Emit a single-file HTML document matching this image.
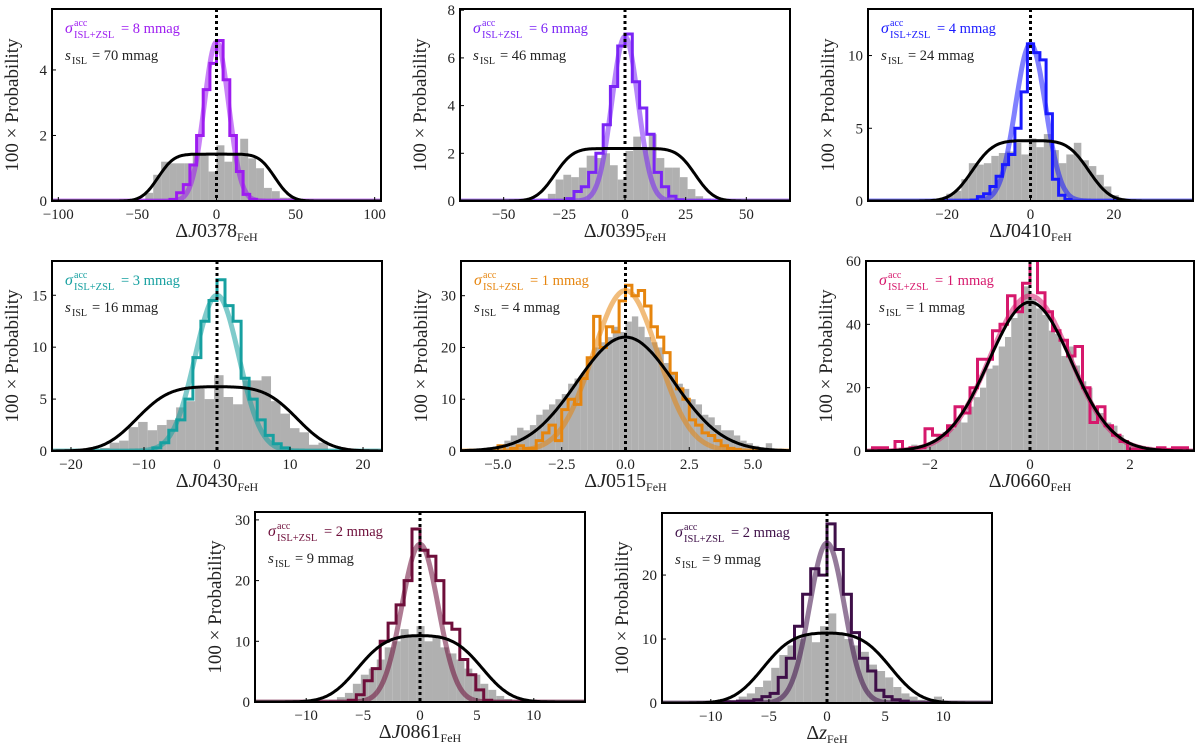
<!DOCTYPE html>
<html><head><meta charset="utf-8"><style>
html,body{margin:0;padding:0;background:#fff;}
svg{display:block;font-family:"Liberation Serif","DejaVu Serif",serif;}
</style></head><body>
<svg id="fig" width="1200" height="749" viewBox="0 0 1200 749"></svg>
<script>
// ---------- DATA ----------
const p1Grey = [0.25,0.8,1.2,1.15,1.15,1.15,1.4,1.4,0.9,1.7,1.2,1.4,1.9,1.3,1.0,0.4,0.3,0.1,0.1];
const p1Col = [0.05,0.25,0.5,1.1,2.0,3.4,4.2,4.9,3.7,2.0,0.9,0.2,0.05];
const p2Grey = [0.1,0.3,0.9,1.1,1.0,1.4,1.9,1.8,2.0,1.5,0.9,2.1,2.7,2.2,2.8,1.8,1.4,1.4,1.0,0.5,0.2,0.1];
const p2Col = [0.1,0.4,0.6,1.2,2.0,3.2,4.8,6.5,7.0,5.0,3.9,2.8,1.2,0.6,0.2,0.05];
const p3Grey = [0.2,0.5,0.7,1.5,2.6,2.5,2.6,3.1,3.3,3.4,4.0,3.2,4.3,3.7,4.6,3.5,2.6,3.2,4.0,2.8,2.4,1.8,1.0,0.4,0.2];
const p3Col = [0.05,0.3,0.5,1.0,1.7,2.5,3.2,5.0,7.5,10.8,10.2,9.7,6.0,1.5,0.4,0.1];
const p4Grey = [0.3,0.8,1.0,2.3,2.8,2.0,2.5,3.0,4.2,4.8,6.0,5.0,7.3,5.2,4.5,6.8,6.8,7.2,4.8,3.6,2.2,1.8,0.6,0.8];
const p4Col = [0.3,0.8,2.0,3.0,5.0,9.0,12.5,14.5,16.5,14,12.5,7,5,3,1.5,0.7,0.3];
const p5Grey = [1,2,3,4.5,4,5,7,8,9,10,11,13,14,15,18,20,21,22,24,23,25,26,24,22,21,20,17,15,13,12,10,9,7,6.5,5,4,4,3,2,1.5,1,0.5,1.5,0.2];
const p5Col = [1,0,0.5,1,0.5,0.5,2,3.5,5,2,8,10,9,14,18,26,20,24,23,29,32,30,31,28,24,22,19,15,12,10,6,5,3.5,3,2,1,0.5,0.3];
const p6Grey = [0,0.3,0,1,0.5,2,1.5,2.5,3,5,6,7,10,9,14,17,20,26,27,33,36,42,45,52,48,45,43,38,37,30,33,27,22,20,14,12,9,8,5,3,2,1.5,0.8,0.5,0.3,0,0.3,0];
const p6Col = [1,1,0,3,0,1,1,7,5,5,8,14,12,20,29,29,38,40,49,44,53,62,50,44,38,35,30,33,20,9,14,8,5,3,0.5,0.5,0.5,0.3,1,0.5,1,1];
const p7Grey = [0.3,0.8,1.5,3.0,4.5,5.5,7,9,10,12,11,12.5,10,11,9,8,7,5.5,4.5,3,2,1,0.5];
const p7Col = [0.3,1.2,3.5,5.5,10,13,16,20,28.5,25,24,20,13,12,7,4.5,2,0.3];
const p8Grey = [0.5,0.4,1,1.5,2.5,3.5,5.5,7.5,9,10,10.5,9.5,12,14,11,10,9,8,6,5,4,2.5,1.5,1,0.5,0.3,1];
const p8Col = [0.2,0.2,0.3,0.3,0.5,1,1.5,4,7,12,17,21,20,28,24,17,11,7,5,2,1,0.5,0.3];
const xTickVals = [[-100,-50,0,50,100],[-50,-25,0,25,50],[-20,0,20],[-20,-10,0,10,20],[-5,-2.5,0,2.5,5],[-2,0,2],[-10,-5,0,5,10],[-10,-5,0,5,10]];
const xTickLabels = [["−100","−50","0","50","100"],["−50","−25","0","25","50"],["−20","0","20"],["−20","−10","0","10","20"],["−5.0","−2.5","0.0","2.5","5.0"],["−2","0","2"],["−10","−5","0","5","10"],["−10","−5","0","5","10"]];
const yTickVals = [[0,2,4],[0,2,4,6,8],[0,5,10],[0,5,10,15],[0,10,20,30],[0,20,40,60],[0,10,20,30],[0,10,20]];
const sigmaVals = [8,6,4,3,1,1,2,2];
const sVals = [70,46,24,16,4,1,9,9];
const xNames = ["J0378","J0395","J0410","J0430","J0515","J0660","J0861","z"];
const gaussAmp = [4.85,6.9,10.8,15,31,49,26,25];
const gaussSig = [7.7,5.4,3.6,3.0,1.27,0.8,1.6,1.5];
const blackAmp = [1.43,2.2,4.15,6.2,22,47,11,11];
const blackHalf = [37,29,14,11,0,0,5.5,5.5];
const blackSmooth = [8,6,4,3.5,1.9,0.82,2,2];
const greyStart = [-45,-35,-22,-16,-5,-3,-8,-9];
const greyWidth = [5,3.2,1.8,1.3,0.25,0.125,0.7,0.7];
const colStart = [-29.4,-24,-14.25,-8.8,-5,-3.15,-6.3,-9.1];
const colWidth = [4.2,3,1.5,1.1,0.25,0.15,0.7,0.7];
// ---------- LAYOUT ----------
const boxes = [[52,9,381,201],[460,9,790,201],[868,9,1193,201],[52,261,382,451],[461,261,790,451],[866,261,1194,451],[255,512,585,702],[662,513,992,703]];
const xHalf = [104,68,39,22.6,6.45,3.28,14.5,14.2];
const yMax = [5.86,8.05,13.2,18.3,36.7,60,31.3,29.7];
const colors = ["#9d1cf0","#7a24f5","#1a1aff","#16a0a0","#e6850e","#d6186c","#6e0e3a","#3e0f48"];
const greys = [p1Grey,p2Grey,p3Grey,p4Grey,p5Grey,p6Grey,p7Grey,p8Grey];
const cols = [p1Col,p2Col,p3Col,p4Col,p5Col,p6Col,p7Col,p8Col];

const NS="http://www.w3.org/2000/svg";
const fig=document.getElementById('fig');
function mk(tag,attrs,parent){const e=document.createElementNS(NS,tag);for(const k in attrs)e.setAttribute(k,attrs[k]);(parent||fig).appendChild(e);return e;}
function erf(x){const s=x<0?-1:1;x=Math.abs(x);const t=1/(1+0.3275911*x);const y=1-(((((1.061405429*t-1.453152027)*t)+1.421413741)*t-0.284496736)*t+0.254829592)*t*Math.exp(-x*x);return s*y;}

for(let i=0;i<8;i++){
  const [l,t,r,b]=boxes[i];
  const xs=v=>l+(v+xHalf[i])/(2*xHalf[i])*(r-l);
  const ys=v=>b-v/yMax[i]*(b-t);
  const g=mk('g',{});
  
  
  const cp=mk('clipPath',{id:'cp'+i},g);
  mk('rect',{x:l,y:t,width:r-l,height:b-t},cp);
  const plot=mk('g',{'clip-path':'url(#cp'+i+')'},g);
  greys[i].forEach((v,k)=>{
    const x0=xs(greyStart[i]+k*greyWidth[i]), x1=xs(greyStart[i]+(k+1)*greyWidth[i]);
    const rct=mk('rect',{x:x0,y:ys(v),width:Math.max(0,x1-x0),height:b-ys(v),fill:'#b0b0b0'},plot);
    
    
  });
  let d='';
  for(let k=0;k<=300;k++){const x=-xHalf[i]+k*(2*xHalf[i])/300;const v=gaussAmp[i]*Math.exp(-x*x/(2*gaussSig[i]*gaussSig[i]));d+=(k?'L':'M')+xs(x).toFixed(1)+','+ys(v).toFixed(1);}
  const gp=mk('path',{d:d,fill:'none',stroke:colors[i],'stroke-width':5,'stroke-opacity':0.55},plot);
  
  
  const c=cols[i];let sd='M0,'+ys(0)+'L'+xs(colStart[i])+','+ys(0);
  c.forEach((v,k)=>{sd+='L'+xs(colStart[i]+k*colWidth[i]).toFixed(1)+','+ys(v).toFixed(1)+'L'+xs(colStart[i]+(k+1)*colWidth[i]).toFixed(1)+','+ys(v).toFixed(1);});
  sd+='L'+xs(colStart[i]+c.length*colWidth[i]).toFixed(1)+','+ys(0)+'L1200,'+ys(0);
  const sp=mk('path',{d:sd,fill:'none',stroke:colors[i],'stroke-width':3},plot);
  
  
  let bd='';
  for(let k=0;k<=300;k++){const x=-xHalf[i]+k*(2*xHalf[i])/300;let v;const s=blackSmooth[i],w=blackHalf[i];
    if(w<=0)v=blackAmp[i]*Math.exp(-x*x/(2*s*s));else v=blackAmp[i]*0.5*(erf((x+w)/(s*Math.SQRT2))-erf((x-w)/(s*Math.SQRT2)));
    bd+=(k?'L':'M')+xs(x).toFixed(1)+','+ys(v).toFixed(1);}
  const bp=mk('path',{d:bd,fill:'none',stroke:'#000','stroke-width':3},plot);
  
  
  const zl=mk('line',{x1:xs(0),x2:xs(0),y1:t,y2:b,stroke:'#000','stroke-width':3,'stroke-dasharray':'3,3'},plot);
  
  
  const bx=mk('rect',{x:l,y:t,width:r-l,height:b-t,fill:'none',stroke:'#000','stroke-width':2},g);
  
  
  xTickVals[i].forEach((v,k)=>{
    mk('line',{x1:xs(v),x2:xs(v),y1:b,y2:b-4,stroke:'#000','stroke-width':1},g);
    const tx=mk('text',{x:xs(v),y:b+18,'font-size':15,'text-anchor':'middle',fill:'#222'},g);
    tx.textContent=xTickLabels[i][k];
    
    
  });
  yTickVals[i].forEach(v=>{
    mk('line',{x1:l,x2:l+4,y1:ys(v),y2:ys(v),stroke:'#000','stroke-width':1},g);
    const ty=mk('text',{x:l-5,y:ys(v)+5,'font-size':15,'text-anchor':'end',fill:'#222'},g);
    ty.textContent=String(v);
    
    
  });
  const yl=mk('text',{x:0,y:0,'font-size':19,'text-anchor':'middle',fill:'#222',transform:'translate('+(l-34)+','+((t+b)/2)+') rotate(-90)'},g);
  yl.textContent='100 × Probability';
  
  
  const xl=mk('text',{x:(l+r)/2,y:b+36,'font-size':20,'text-anchor':'middle',fill:'#222'},g);
  
  
  const t1=mk('tspan',{},xl);t1.textContent='Δ';
  const t2=mk('tspan',{'font-style':'italic'},xl);t2.textContent=xNames[i].charAt(0);
  if(xNames[i].length>1){const t3=mk('tspan',{},xl);t3.textContent=xNames[i].slice(1);}
  const t4=mk('tspan',{'font-size':12,dy:4},xl);t4.textContent='FeH';
  const a=mk('g',{fill:colors[i]},g);
  
  
  mk('text',{x:l+13,y:t+24,'font-size':16,'font-style':'italic'},a).textContent='σ';
  mk('text',{x:l+22,y:t+17,'font-size':10},a).textContent='acc';
  mk('text',{x:l+22,y:t+29,'font-size':10.5},a).textContent='ISL+ZSL';
  mk('text',{x:l+69,y:t+24,'font-size':14.5},a).textContent='= '+sigmaVals[i]+' mmag';
  const s=mk('g',{fill:'#222'},g);
  
  
  mk('text',{x:l+13,y:t+51,'font-size':15,'font-style':'italic'},s).textContent='s';
  mk('text',{x:l+20,y:t+55,'font-size':10},s).textContent='ISL';
  mk('text',{x:l+40,y:t+51,'font-size':14.5},s).textContent='= '+sVals[i]+' mmag';
}
</script>
</body></html>
